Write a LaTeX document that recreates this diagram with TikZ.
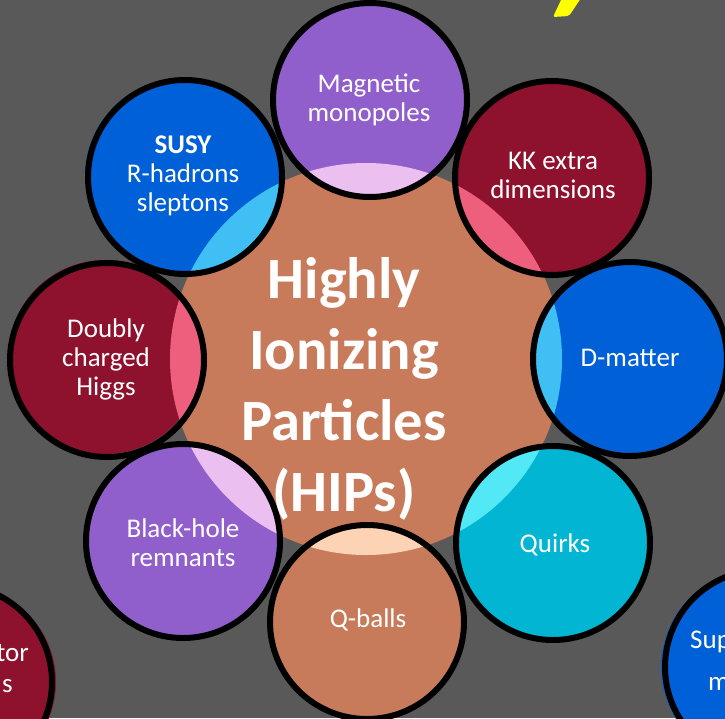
\documentclass[tikz,border=0pt]{standalone}
\usepackage{fontspec}
\setmainfont{Carlito}
\definecolor{bgGray}{HTML}{595959}
\definecolor{hipBrown}{HTML}{C77B5B}
\definecolor{hipPeach}{HTML}{FCD3B4}
\definecolor{hipPurple}{HTML}{915FCB}
\definecolor{hipLilac}{HTML}{EBC0F0}
\definecolor{hipWine}{HTML}{8E112D}
\definecolor{hipPink}{HTML}{EE5F7E}
\definecolor{hipBlue}{HTML}{0060D7}
\definecolor{hipSky}{HTML}{40BFF4}
\definecolor{hipCyan}{HTML}{02B6D3}
\definecolor{hipAqua}{HTML}{52E8F5}
\definecolor{hipYellow}{HTML}{FFFF00}

% #1,#2 centre; #3 fill; #4 colour where it meets the central disc; #5,#6 offset of the fill
\newcommand\hipbubble[6]{%
  \fill[#3] ({#1+#5},{#2+#6}) circle (97);
  \begin{scope}
    \clip (#1,#2) circle (97);
    \fill[#4] (hip) circle (196);
  \end{scope}
  \draw[ring] (#1,#2) circle (97);
}

\begin{document}
\begin{tikzpicture}[x=1pt,y=-1pt,
  ring/.style={draw=black, line width=6pt},
  bubbletext/.style={text=white, font=\fontsize{27}{29}\selectfont, align=center, inner sep=0pt},
  titletext/.style={text=white, font=\fontsize{58.5}{71}\selectfont\bfseries, align=center, inner sep=0pt}]

\fill[bgGray] (0,0) rectangle (725,718);
\useasboundingbox (0,0) rectangle (725,718);

% fragment of the yellow heading above
\fill[hipYellow, rounded corners=2pt] (562,-2) -- (581,-2) -- (569,16) -- (553,17) -- cycle;

% central disc
\coordinate (hip) at (366,359);
\fill[hipBrown] (hip) circle (196);

% partly visible discs at the lower corners
\fill[hipWine] (-41,682) circle (97);
\draw[ring] (-45,682) circle (97);
\fill[hipBlue] (758,667) circle (97);
\draw[ring] (762,667) circle (97);

% the ring of satellite discs
\hipbubble{370}{100}{hipPurple}{hipLilac}{0}{-2}
\hipbubble{552}{178}{hipWine}{hipPink}{3}{0}
\hipbubble{630}{359}{hipBlue}{hipSky}{1}{-3}
\hipbubble{553}{543}{hipCyan}{hipAqua}{0}{0}
\hipbubble{367}{622}{hipBrown}{hipPeach}{0}{0}
\hipbubble{107}{360}{hipWine}{hipPink}{-2}{-3}
\hipbubble{183}{541}{hipPurple}{hipLilac}{0}{0}
\hipbubble{185}{177}{hipBlue}{hipSky}{-3}{-1}

% labels
\node[titletext] (title) at (344,389) {Highly\\Ionizing\\Particles\\(HIPs)};
\node[bubbletext] (mono) at (369,100) {Magnetic\\monopoles};
\node[bubbletext] (kk) at (553,175) {KK extra\\dimensions};
\node[bubbletext] (dmat) at (630,358) {D-matter};
\node[bubbletext] (quirk) at (555,545) {Quirks};
\node[bubbletext] (qball) at (368,620) {Q-balls};
\node[bubbletext] (bh) at (183,543) {Black-hole\\remnants};
\node[bubbletext] (higgs) at (106,359) {Doubly\\charged\\Higgs};
\node[bubbletext] (susy) at (183,176) {\bfseries SUSY\\R-hadrons\\sleptons};
\node[bubbletext, anchor=base east] (vecA) at (29,661) {tor};
\node[bubbletext, anchor=base east] (vecB) at (13,692) {s};
\node[bubbletext, anchor=base west] (supA) at (690,648) {Sup};
\node[bubbletext, anchor=base west] (supB) at (708,690) {m};
\end{tikzpicture}
\end{document}
